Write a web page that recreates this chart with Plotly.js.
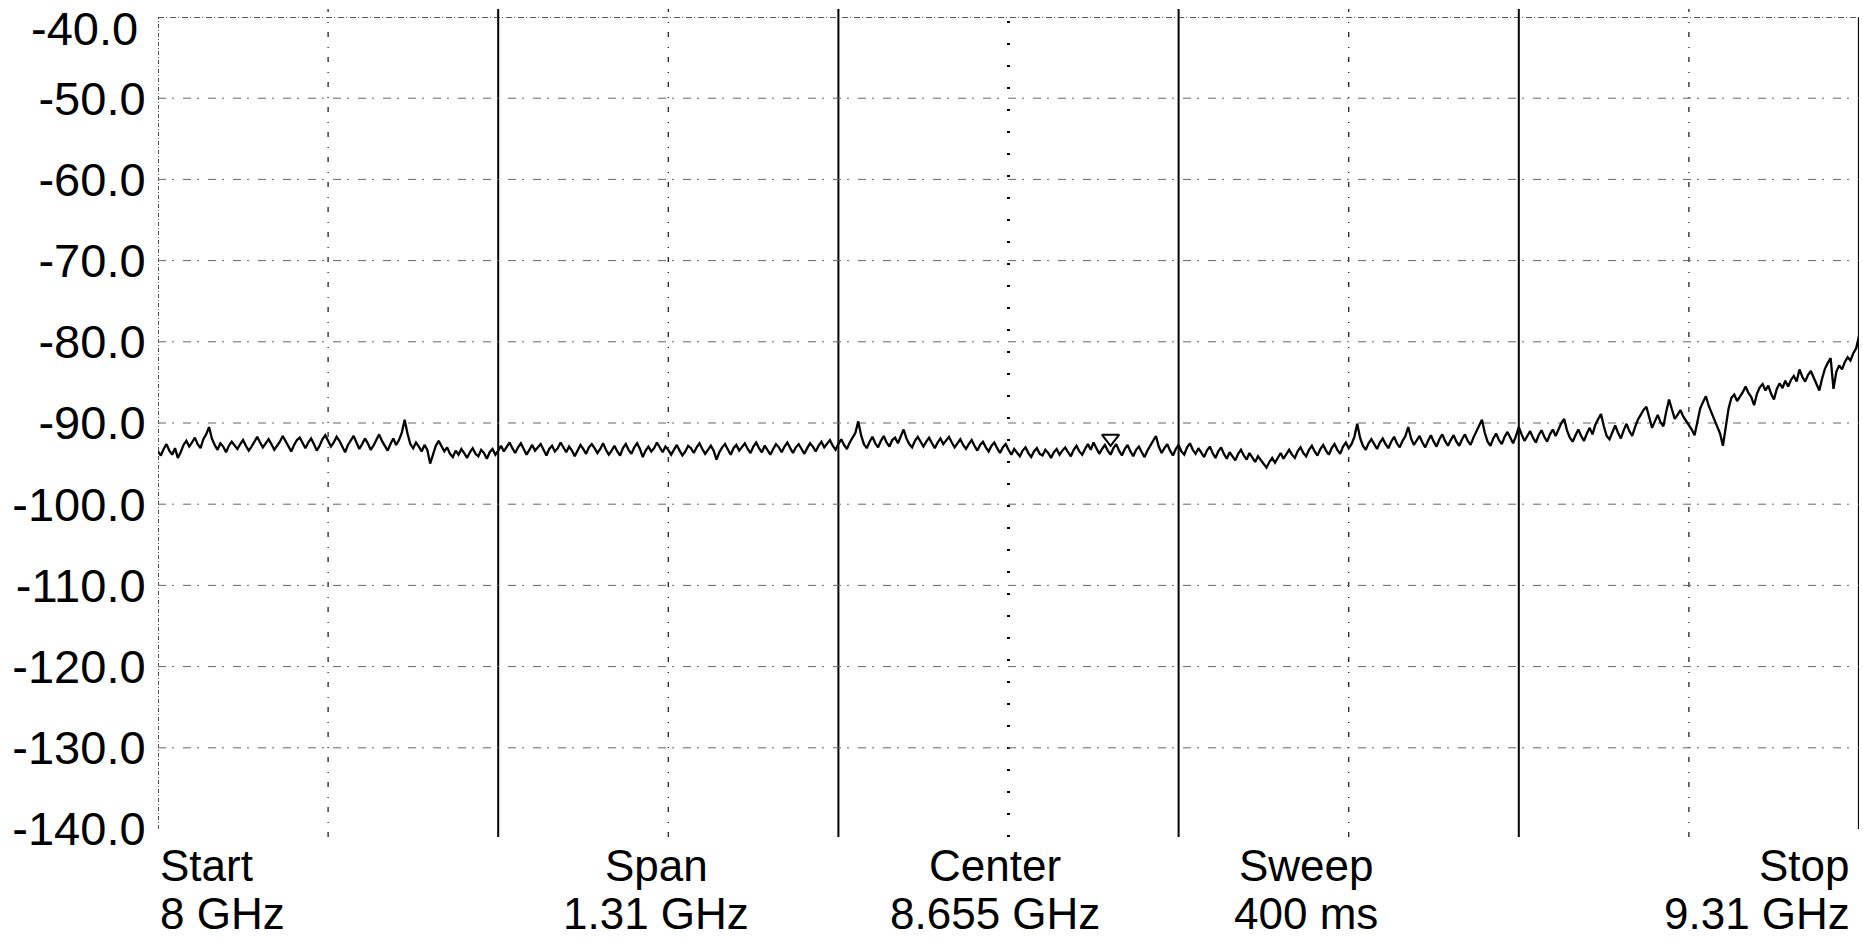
<!DOCTYPE html>
<html>
<head>
<meta charset="utf-8">
<script src="https://cdn.plot.ly/plotly-3.0.1.min.js"></script>
<style>
  html, body { margin: 0; padding: 0; background: #ffffff; }
  #chart { width: 1863px; height: 942px; }
</style>
</head>
<body>
<div id="chart"></div>
<script>
// ---- data ----
const startGHz = 8.0;
const stopGHz = 9.31;

const yTickVals = [-40, -50, -60, -70, -80, -90, -100, -110, -120, -130, -140];
const yTickText = ['-40.0', '-50.0', '-60.0', '-70.0', '-80.0', '-90.0', '-100.0', '-110.0', '-120.0', '-130.0', '-140.0'];

// trace level in dB (601 sweep points)
const levelDb = [
  -93.5, -94.0, -93.2, -92.6, -93.4, -93.9, -93.1, -94.3, -93.6, -92.7, -92.2, -92.9, -92.4, -91.8, -92.6, -93.1, -92.0, -91.4, -90.5, -91.9,
  -92.7, -93.3, -92.5, -92.9, -93.6, -92.8, -92.3, -92.7, -93.2, -92.6, -92.1, -92.8, -93.4, -92.9, -92.2, -91.7, -92.4, -93.0, -92.5, -92.0,
  -92.6, -93.3, -92.8, -92.3, -91.6, -92.2, -92.9, -93.5, -92.7, -92.1, -91.8, -92.5, -93.1, -92.4, -91.9, -92.6, -93.4, -92.8, -92.0, -91.5,
  -92.3, -92.9, -92.4, -91.7, -92.2, -93.0, -93.6, -92.7, -92.2, -91.6, -92.4, -93.2, -92.6, -91.9, -92.5, -93.3, -92.8, -92.1, -91.4, -92.2,
  -92.9, -93.4, -92.6, -91.9, -92.7, -92.1, -91.2, -89.6, -91.3, -92.6, -93.1, -92.4, -92.9, -93.5, -92.7, -93.3, -95.0, -93.9, -92.8, -92.2,
  -92.9, -93.5, -93.0, -93.8, -94.2, -93.4, -93.9, -93.2, -93.7, -94.3, -93.6, -93.1, -93.8, -94.1, -93.3, -93.7, -94.4, -93.6, -93.2, -93.9,
  -93.4, -92.8, -93.5, -92.9, -92.4, -93.1, -93.7, -93.0, -92.5, -93.2, -93.9, -93.3, -92.7, -93.4, -93.0, -92.6, -93.3, -94.0, -93.2, -92.8,
  -93.5, -93.1, -92.4, -93.0, -93.6, -92.9, -93.4, -94.1, -93.3, -92.7, -93.2, -93.8, -93.0, -92.6, -93.1, -93.7, -93.2, -92.5, -93.3, -93.9,
  -93.4, -92.8, -93.5, -94.0, -93.1, -92.6, -93.3, -93.8, -93.0, -92.5, -93.2, -94.2, -93.4, -92.9, -93.5, -93.1, -92.4, -93.0, -93.6, -92.9,
  -93.3, -93.9, -93.2, -92.7, -93.4, -94.0, -93.5, -92.8, -93.1, -93.7, -93.0, -92.5, -93.2, -93.8, -93.3, -92.8, -93.4, -94.5, -93.6, -93.0,
  -92.6, -93.3, -93.9, -93.1, -92.7, -93.4, -93.0, -92.5, -93.2, -93.7, -92.9, -92.4, -93.1, -93.6, -92.8, -93.3, -93.9, -93.2, -92.6, -93.0,
  -93.6, -92.9, -92.4, -93.1, -93.7, -93.0, -92.6, -93.2, -93.8, -93.1, -92.5, -92.9, -93.5, -92.8, -92.3, -93.0, -92.6, -92.1, -92.8, -93.3,
  -92.6, -92.0, -92.7, -93.2, -92.4, -91.8, -91.2, -89.8, -91.5, -92.6, -93.1, -92.3, -91.7, -92.5, -93.0, -92.2, -91.6, -92.4, -92.9, -92.1,
  -91.8, -92.5, -91.7, -90.8, -91.9, -92.6, -93.0, -92.2, -91.7, -92.4, -92.9, -92.3, -91.8, -92.5, -93.1, -92.4, -91.9, -92.6, -92.2, -91.7,
  -92.4, -93.0, -92.5, -92.0, -92.7, -93.2, -92.6, -92.1, -92.8, -93.4, -92.7, -92.3, -93.0, -93.5, -92.8, -92.4, -93.1, -93.7, -93.0, -92.6,
  -93.3, -93.9, -93.2, -93.6, -94.1, -93.4, -93.0, -93.7, -94.2, -93.5, -93.1, -93.8, -94.0, -93.3, -93.7, -94.3, -93.6, -93.2, -93.9, -93.4,
  -93.0, -93.6, -94.1, -93.3, -92.8, -93.5, -93.9, -93.2, -92.6, -93.3, -92.4, -93.1, -93.8, -93.2, -92.7, -93.4, -93.9, -93.1, -92.6, -93.4,
  -94.0, -93.2, -92.7, -93.5, -94.1, -93.3, -92.9, -93.6, -94.2, -93.4, -92.8, -92.2, -91.6, -92.9, -93.7, -93.1, -92.6, -93.4, -94.0, -93.2,
  -92.7, -93.5, -93.9, -93.0, -92.5, -93.3, -93.8, -93.1, -93.6, -94.2, -93.4, -92.9, -93.7, -94.3, -93.5, -93.0, -93.8, -94.4, -93.6, -94.1,
  -94.6, -93.8, -93.3, -94.0, -94.5, -93.7, -94.2, -94.8, -94.1, -94.6, -95.1, -95.5, -94.8, -94.3, -94.9, -94.2, -93.7, -94.4, -93.8, -93.3,
  -93.9, -94.3, -93.5, -93.0, -93.7, -94.1, -93.3, -92.8, -93.5, -94.0, -93.2, -92.7, -93.4, -93.9, -93.1, -92.6, -93.3, -93.8, -92.9, -92.4,
  -93.1, -92.6, -91.7, -90.1, -91.8, -92.8, -93.3, -92.5, -92.0, -92.7, -93.2, -92.4, -91.9, -92.6, -93.1, -92.3, -91.7, -92.5, -93.0, -92.2,
  -91.6, -90.5, -91.9, -92.7, -92.1, -91.6, -92.4, -93.0, -92.2, -91.5, -92.3, -92.9, -92.0, -91.4, -92.2, -92.8, -92.1, -91.5, -92.3, -92.8,
  -92.0, -91.4, -92.2, -92.7, -91.8, -91.0, -90.4, -89.6, -91.2, -92.3, -92.8, -91.9, -91.3, -92.1, -92.6, -91.7, -91.1, -91.9, -92.5, -91.6,
  -90.5, -91.4, -92.2, -91.6, -91.0, -91.8, -92.4, -91.5, -90.9, -91.7, -92.3, -91.4, -90.8, -91.6, -90.7, -90.0, -89.5, -90.9, -91.8, -92.3,
  -91.5, -90.8, -91.6, -92.2, -91.3, -90.6, -91.4, -90.2, -89.5, -88.9, -90.4, -91.6, -92.0, -91.1, -90.3, -91.2, -91.9, -90.9, -90.1, -91.0,
  -91.6, -90.5, -89.6, -89.0, -88.4, -88.0, -89.3, -90.6, -89.8, -89.0, -89.9, -90.4, -88.6, -87.1, -88.3, -89.5, -89.0, -88.4, -89.2, -89.7,
  -90.3, -90.8, -91.5, -89.9, -88.2, -87.4, -86.7, -87.9, -88.8, -89.5, -90.4, -91.3, -92.8, -90.6, -88.2, -86.9, -86.5, -87.3, -86.8, -86.2,
  -85.5, -86.3, -86.8, -87.8, -86.4, -85.6, -85.2, -86.0, -85.4, -86.4, -87.1, -85.8, -85.1, -85.7, -84.8, -85.5, -84.7, -84.2, -84.9, -83.4,
  -84.3, -84.9, -84.1, -83.6, -84.4, -85.2, -86.0, -84.5, -83.3, -82.6, -82.0, -85.8, -83.7, -82.9, -83.4, -82.5, -81.9, -82.3, -81.4, -80.8,
  -79.3
];

// marker (open triangle) on the trace
const markerGHz = [8.7336];
const markerDb = [-91.9];

// annotation lines under the graticule
const footerTop = ['Start', 'Span', 'Center', 'Sweep', 'Stop'];
const footerBottom = ['8 GHz', '1.31 GHz', '8.655 GHz', '400 ms', '9.31 GHz'];

// ---- build ----
const nDiv = 10;
const spanGHz = stopGHz - startGHz;
const freqGHz = levelDb.map((_, i) => startGHz + i * spanGHz / (levelDb.length - 1));

const FONT = "'Liberation Sans', Arial, sans-serif";
const TICK_SIZE = 47;

const shapes = [];
// vertical graticule lines
for (let k = 0; k <= nDiv; k++) {
  const xv = startGHz + k * spanGHz / nDiv;
  let line, y0 = -0.01, y1 = 1.01;
  if (k === 0) { line = {color: '#222', width: 1.5, dash: '4px,2px,1px,2px'}; y0 = 0; y1 = 1; }
  else if (k === nDiv) { line = {color: '#000', width: 2.2}; y0 = 0; y1 = 1; }
  else if (k === 5) { line = {color: '#000', width: 3, dash: '2px,20px'}; }
  else if (k % 2 === 0) { line = {color: '#000', width: 2}; }
  else { line = {color: '#222', width: 1.3, dash: '5px,9px,1px,10px'}; }
  shapes.push({type: 'line', xref: 'x', yref: 'paper', x0: xv, x1: xv, y0: y0, y1: y1, line: line, layer: 'below'});
}
// horizontal graticule lines
yTickVals.forEach(v => {
  if (v === -140) return;
  const line = (v === -40)
    ? {color: '#222', width: 1.5, dash: '6px,2px,1px,3px'}
    : {color: '#666', width: 1, dash: '8px,6px,2px,9px'};
  shapes.push({type: 'line', xref: 'paper', yref: 'y', x0: 0, x1: 1, y0: v, y1: v, line: line, layer: 'below'});
});

const annotations = [];
// top tick label drawn as an annotation so it stays inside the page
const topIdx = yTickVals.indexOf(-40);
const shownTickText = yTickText.map((t, i) => (i === topIdx ? '' : t));
annotations.push({xref: 'paper', yref: 'paper', x: 0, y: 1, xanchor: 'right', yanchor: 'top', xshift: -18, yshift: 17,
  text: yTickText[topIdx], showarrow: false, font: {family: FONT, size: TICK_SIZE, color: '#000'}});

const footerX = [0.0, 0.293, 0.492, 0.675, 0.996];
const footerAnchor = ['left', 'center', 'center', 'center', 'right'];
footerTop.forEach((t, i) => {
  annotations.push({xref: 'paper', yref: 'paper', x: footerX[i], y: 0, xanchor: footerAnchor[i], yanchor: 'middle',
    yshift: -36, text: t, showarrow: false, font: {family: FONT, size: 44, color: '#000'}});
  annotations.push({xref: 'paper', yref: 'paper', x: footerX[i], y: 0, xanchor: footerAnchor[i], yanchor: 'middle',
    yshift: -84, text: footerBottom[i], showarrow: false, font: {family: FONT, size: 44, color: '#000'}});
});

const traces = [
  {x: freqGHz, y: levelDb, type: 'scatter', mode: 'lines', line: {color: '#000', width: 2.3}, hoverinfo: 'skip'},
  {x: markerGHz, y: markerDb, type: 'scatter', mode: 'markers',
   marker: {symbol: 'triangle-down-open', size: 15, color: '#000', line: {width: 2, color: '#000'}}, hoverinfo: 'skip'}
];

const layout = {
  width: 1863, height: 942,
  margin: {l: 158, r: 4, t: 17, b: 113},
  paper_bgcolor: '#ffffff', plot_bgcolor: '#ffffff',
  showlegend: false,
  xaxis: {range: [startGHz, stopGHz], showgrid: false, zeroline: false, showticklabels: false, ticks: '', showline: false, fixedrange: true},
  yaxis: {range: [-140, -40], tickvals: yTickVals, ticktext: shownTickText, showgrid: false, zeroline: false, showline: false,
          ticks: 'outside', ticklen: 2, tickcolor: 'rgba(0,0,0,0)',
          tickfont: {family: FONT, size: TICK_SIZE, color: '#000'}, fixedrange: true},
  shapes: shapes,
  annotations: annotations
};

Plotly.newPlot('chart', traces, layout, {staticPlot: true, displayModeBar: false});
</script>
</body>
</html>
